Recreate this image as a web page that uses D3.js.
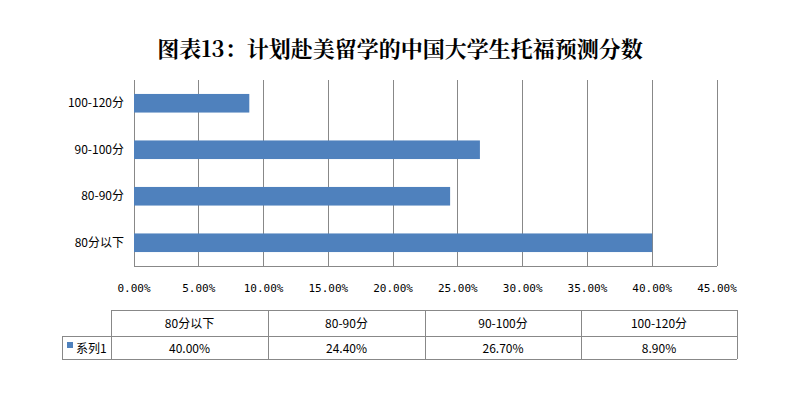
<!DOCTYPE html><html><head><meta charset="utf-8"><script src="https://cdn.jsdelivr.net/npm/d3@7"></script>
<style>body{margin:0;background:#fff}</style></head><body><svg id="c" width="800" height="400"></svg><script>
const categories=["80分以下","80-90分","90-100分","100-120分"];
const values=[40.00,24.40,26.70,8.90];
const ticks=[0,5,10,15,20,25,30,35,40,45];
const seriesName="系列1";
const svg=d3.select("#c");
const font="'Noto Sans CJK SC','DejaVu Sans',sans-serif";
svg.append("text").attr("x",400).attr("y",57).attr("text-anchor","middle").attr("font-family","'Noto Serif CJK SC','Noto Sans CJK SC',serif").attr("font-weight","bold").attr("font-size",22).text("图表13：计划赴美留学的中国大学生托福预测分数");
const x=d3.scaleLinear().domain([0,45]).range([134,717]);
const y=d3.scaleBand().domain(categories).range([266,80]).paddingInner(0.6).paddingOuter(0.3);
ticks.forEach(t=>svg.append("line").attr("x1",x(t)).attr("x2",x(t)).attr("y1",80).attr("y2",266).attr("stroke","#888").attr("shape-rendering","crispEdges"));
svg.append("line").attr("x1",134).attr("x2",717).attr("y1",266).attr("y2",266).attr("stroke","#888").attr("shape-rendering","crispEdges");
svg.selectAll("rect.b").data(values).join("rect").attr("x",x(0)).attr("y",(d,i)=>y(categories[i])).attr("width",d=>x(d)-x(0)).attr("height",y.bandwidth()).attr("fill","#4f81bd");
categories.forEach(c=>svg.append("text").attr("x",124).attr("y",y(c)+y.bandwidth()/2+4).attr("text-anchor","end").attr("font-family",font).attr("font-size",12).text(c));
ticks.forEach(t=>svg.append("text").attr("x",x(t)).attr("y",292).attr("text-anchor","middle").attr("font-family","'DejaVu Sans Mono',monospace").attr("font-size",11).text(t.toFixed(2)+"%"));
const cols=[111,268,425,581,737];
const g=svg.append("g").attr("stroke","#888").attr("shape-rendering","crispEdges");
g.append("line").attr("x1",111).attr("x2",737).attr("y1",310).attr("y2",310);
g.append("line").attr("x1",62).attr("x2",737).attr("y1",336).attr("y2",336);
g.append("line").attr("x1",62).attr("x2",737).attr("y1",359).attr("y2",359);
g.append("line").attr("x1",62).attr("x2",62).attr("y1",336).attr("y2",359);
cols.forEach(c=>g.append("line").attr("x1",c).attr("x2",c).attr("y1",310).attr("y2",359));
categories.forEach((c,i)=>{const cx=(cols[i]+cols[i+1])/2;
svg.append("text").attr("x",cx).attr("y",328).attr("text-anchor","middle").attr("font-family",font).attr("font-size",12).text(c);
svg.append("text").attr("x",cx).attr("y",353).attr("text-anchor","middle").attr("font-family",font).attr("font-size",12).text(values[i].toFixed(2)+"%");});
svg.append("rect").attr("x",67).attr("y",342).attr("width",6).attr("height",6).attr("fill","#4f81bd");
svg.append("text").attr("x",76).attr("y",353).attr("font-family",font).attr("font-size",12).text(seriesName);
</script></body></html>
